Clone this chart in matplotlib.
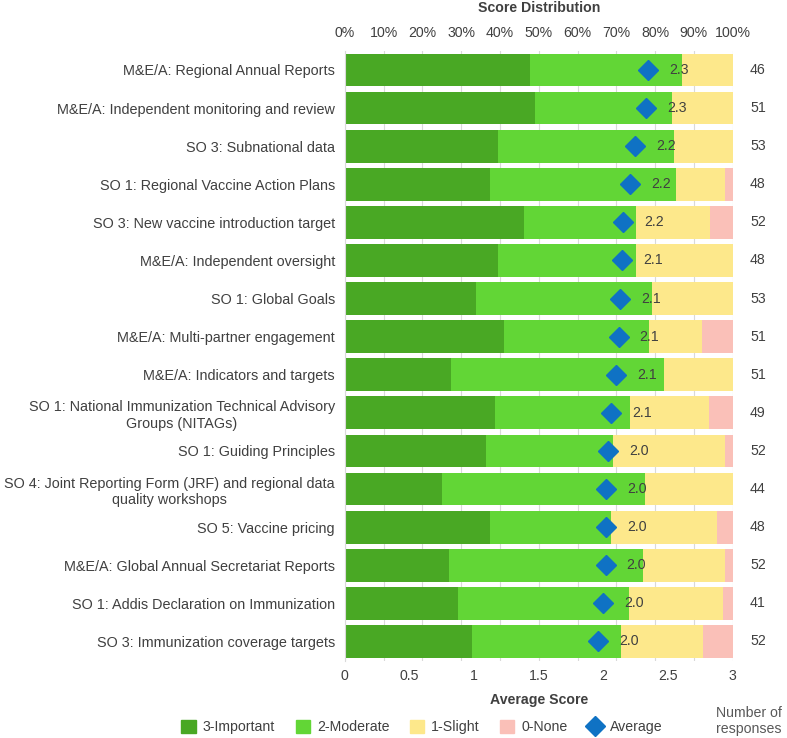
import matplotlib
matplotlib.use("Agg")
import matplotlib.pyplot as plt
import numpy as np
from matplotlib.lines import Line2D
from matplotlib.patches import Patch

plt.rcParams['font.family'] = ['Liberation Sans', 'DejaVu Sans']

# categories, top to bottom
categories = [
    "M&E/A: Regional Annual Reports",
    "M&E/A: Independent monitoring and review",
    "SO 3: Subnational data",
    "SO 1: Regional Vaccine Action Plans",
    "SO 3: New vaccine introduction target",
    "M&E/A: Independent oversight",
    "SO 1: Global Goals",
    "M&E/A: Multi-partner engagement",
    "M&E/A: Indicators and targets",
    "SO 1: National Immunization Technical Advisory\nGroups (NITAGs)",
    "SO 1: Guiding Principles",
    "SO 4: Joint Reporting Form (JRF) and regional data\nquality workshops",
    "SO 5: Vaccine pricing",
    "M&E/A: Global Annual Secretariat Reports",
    "SO 1: Addis Declaration on Immunization",
    "SO 3: Immunization coverage targets",
]

# number of responses per score level
important = [22, 25, 21, 18, 24, 19, 18, 21, 14, 19, 19, 11, 18, 14, 12, 17]
moderate = [18, 18, 24, 23, 15, 17, 24, 19, 28, 17, 17, 23, 15, 26, 18, 20]
slight = [6, 8, 8, 6, 10, 12, 11, 7, 9, 10, 15, 10, 13, 11, 10, 11]
none = [0, 0, 0, 1, 3, 0, 0, 4, 0, 3, 1, 0, 2, 1, 1, 4]

series_names = ["3-Important", "2-Moderate", "1-Slight", "0-None"]
colors = ["#49a824", "#62d636", "#fde88b", "#fac0b8"]
text_col = "#404040"
fs = 10.2

counts = np.array([important, moderate, slight, none], dtype=float)
n_resp = counts.sum(axis=0)
pct = counts / n_resp * 100
avg = (3 * counts[0] + 2 * counts[1] + counts[2]) / n_resp

fig = plt.figure(figsize=(7.87, 7.38), dpi=100)
ax = fig.add_axes([0.438, 0.105, 0.493, 0.826])
y = np.arange(len(categories))

left = np.zeros(len(categories))
for i in range(4):
    ax.barh(y, pct[i], left=left, height=0.86, color=colors[i], zorder=2)
    left += pct[i]

ax.set_xlim(0, 100)
ax.set_ylim(len(categories) - 0.5, -0.5)
ax.grid(axis='x', color="#d9d9d9", lw=0.8, zorder=0)
ax.set_yticks(y)
ax.set_yticklabels(categories)
for lbl in ax.get_yticklabels():
    lbl.set_multialignment('center')
for s in ax.spines.values():
    s.set_visible(False)
ax.spines['left'].set_visible(True)
ax.spines['left'].set_color("#d9d9d9")

# average score axis
ax2 = ax.twiny()
ax2.set_xlim(0, 3)
ax2.xaxis.tick_bottom()
ax2.xaxis.set_label_position('bottom')
ax2.set_xticks([0, 0.5, 1, 1.5, 2, 2.5, 3])
ax2.set_xticklabels(["0", "0.5", "1", "1.5", "2", "2.5", "3"])
ax2.tick_params(axis='x', length=0, labelsize=fs, colors=text_col, pad=6)
for s in ax2.spines.values():
    s.set_visible(False)
ax2.plot(avg, y, 'D', color="#0f72c4", markersize=10, zorder=5, linestyle='none')
for yi, a in zip(y, avg):
    ax2.annotate(f"{a:.1f}", (a, yi), xytext=(15, 0), textcoords='offset points',
                 ha='left', va='center', fontsize=fs, color=text_col, zorder=6)
ax2.set_xlabel("Average Score", fontsize=fs, fontweight='bold', color=text_col, labelpad=7)

# percent axis on top (after twiny, which moves ticks to the bottom)
ax.xaxis.tick_top()
ax.set_xticks(np.arange(0, 101, 10))
ax.set_xticklabels([f"{v}%" for v in range(0, 101, 10)])
ax.tick_params(axis='both', length=0, labelsize=fs, colors=text_col)
ax.tick_params(axis='x', pad=8)
ax.tick_params(axis='y', pad=7, labelsize=10.4)
fig.text(0.685, 0.989, "Score Distribution", ha='center', va='center',
         fontsize=fs, fontweight='bold', color=text_col)

# number of responses column
for yi, n in zip(y, n_resp):
    ax.text(1.065, yi, f"{int(n)}", transform=ax.get_yaxis_transform(),
            ha='center', va='center', fontsize=fs, color=text_col)
fig.text(0.952, 0.003, "Number of\nresponses", ha='center', va='bottom',
         fontsize=fs, color="#595959", linespacing=1.2)

handles = [Patch(color=c) for c in colors]
handles.append(Line2D([], [], marker='D', color="#0f72c4", linestyle='none', markersize=10))
fig.legend(handles, series_names + ["Average"], loc='lower center',
           bbox_to_anchor=(0.536, -0.012), ncol=5, frameon=False, fontsize=fs,
           handlelength=1.0, handleheight=1.0, handletextpad=0.5, columnspacing=1.45,
           labelcolor=text_col)

fig.savefig("out.png", dpi=100)
